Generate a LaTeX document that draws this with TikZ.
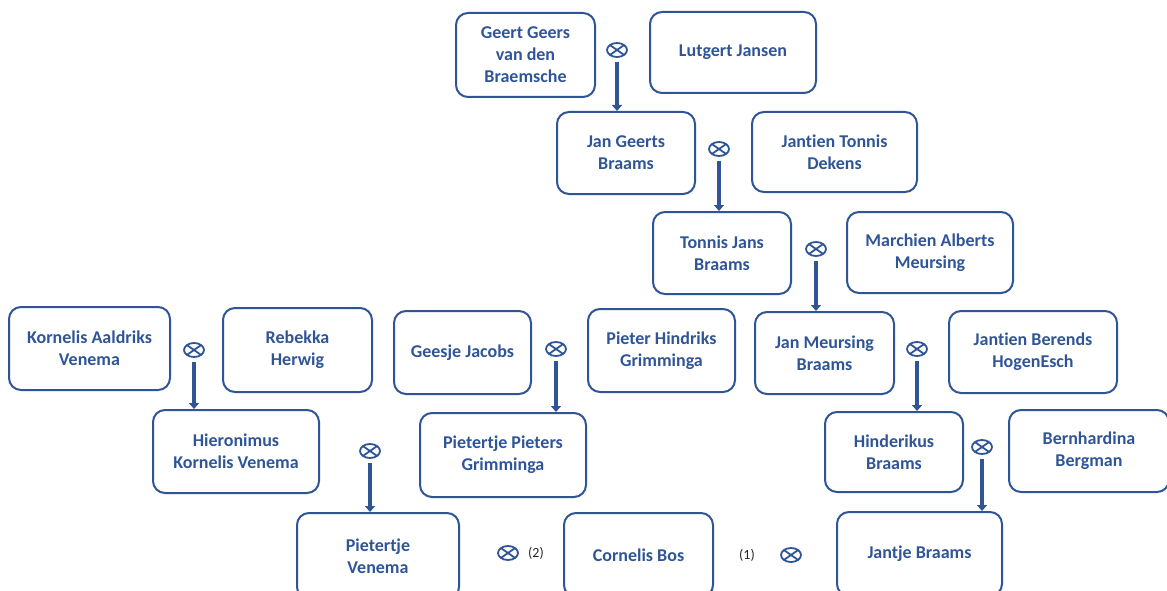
\documentclass[tikz,border=0pt]{standalone}
\usepackage{fontspec}
\setmainfont{Carlito}[Ligatures=NoCommon]
\usetikzlibrary{arrows.meta,shapes.geometric}
\definecolor{dblue}{RGB}{47,85,151}
\begin{document}
\begin{tikzpicture}[x=1pt,y=-1pt,
 person/.style={draw=dblue, line width=2pt, rounded corners=12pt, text=dblue,
   font=\fontsize{18}{22}\selectfont\bfseries, align=center, inner sep=0pt},
 marr/.style={ellipse, draw=dblue, line width=1.8pt, minimum width=20pt, minimum height=14pt, inner sep=0pt,
   path picture={\draw[dblue, line width=1.8pt]
     (path picture bounding box.north west) -- (path picture bounding box.south east)
     (path picture bounding box.north east) -- (path picture bounding box.south west);}},
 descent/.style={draw=dblue, line width=4pt, -{Triangle[width=10pt,length=6pt]}, shorten <=4pt},
 note/.style={font=\fontsize{14}{16}\selectfont, text=black!85, inner sep=0pt}
]
\clip (0,0) rectangle (1167,591);

% persons
\node[person, minimum width=139pt, minimum height=84pt] (geert) at (525.5,55) {Geert Geers\\van den\\Braemsche};
\node[person, minimum width=166pt, minimum height=81pt] (lutgert) at (733,52.5) {Lutgert Jansen};
\node[person, minimum width=138pt, minimum height=82pt] (jang) at (626,153) {Jan Geerts\\Braams};
\node[person, minimum width=165pt, minimum height=80pt] (jantienT) at (834.5,152) {Jantien Tonnis\\Dekens};
\node[person, minimum width=138pt, minimum height=82pt] (tonnis) at (722,253) {Tonnis Jans\\Braams};
\node[person, minimum width=166pt, minimum height=81pt] (marchien) at (930,252.5) {Marchien Alberts\\Meursing};
\node[person, minimum width=139pt, minimum height=82pt] (janM) at (824.5,353) {Jan Meursing\\Braams};
\node[person, minimum width=168pt, minimum height=82pt] (jantienB) at (1033,352) {Jantien Berends\\HogenEsch};
\node[person, minimum width=138pt, minimum height=80pt] (hinderikus) at (894,452) {Hinderikus\\Braams};
\node[person, minimum width=160pt, minimum height=82pt] (bernhardina) at (1089,451) {Bernhardina\\Bergman};
\node[person, minimum width=165pt, minimum height=84pt] (jantje) at (919.5,554) {Jantje Braams};
\node[person, minimum width=149pt, minimum height=84pt] (cornelis) at (638.5,555) {Cornelis Bos};
\node[person, minimum width=162pt, minimum height=86pt] (pietertjeV) at (378,556) {Pietertje\\Venema};
\node[person, minimum width=166pt, minimum height=84pt] (pietertjeP) at (503,455) {Pietertje Pieters\\Grimminga};
\node[person, minimum width=166pt, minimum height=83pt] (hieronimus) at (236,451.5) {Hieronimus\\Kornelis Venema};
\node[person, minimum width=161pt, minimum height=83pt] (kornelisA) at (89.5,348.5) {Kornelis Aaldriks\\Venema};
\node[person, minimum width=149pt, minimum height=84pt] (rebekka) at (297.5,350) {Rebekka\\Herwig};
\node[person, minimum width=137pt, minimum height=83pt] (geesje) at (462.5,352.5) {Geesje Jacobs};
\node[person, minimum width=147pt, minimum height=83pt] (pieterH) at (661.5,350.5) {Pieter Hindriks\\Grimminga};

% marriage symbols
\node[marr] (m1) at (617,50) {};
\node[marr] (m2) at (719,149) {};
\node[marr] (m3) at (816,249) {};
\node[marr] (m4) at (917,349) {};
\node[marr] (m5) at (982,447) {};
\node[marr] (m6) at (194,350) {};
\node[marr] (m7) at (556,349) {};
\node[marr] (m8) at (370,451) {};
\node[marr] (m9) at (508,553) {};
\node[marr] (m10) at (791,555) {};

% notes
\node[note] (n2) at (536,553) {(2)};
\node[note] (n1) at (747,555) {(1)};

% descent arrows
\draw[descent] (m1.south) -- (m1.south |- jang.north);
\draw[descent] (m2.south) -- (m2.south |- tonnis.north);
\draw[descent] (m3.south) -- (m3.south |- janM.north);
\draw[descent] (m4.south) -- (m4.south |- hinderikus.north);
\draw[descent] (m5.south) -- (m5.south |- jantje.north);
\draw[descent] (m6.south) -- (m6.south |- hieronimus.north);
\draw[descent] (m7.south) -- (m7.south |- pietertjeP.north);
\draw[descent] (m8.south) -- (m8.south |- pietertjeV.north);
\end{tikzpicture}
\end{document}
